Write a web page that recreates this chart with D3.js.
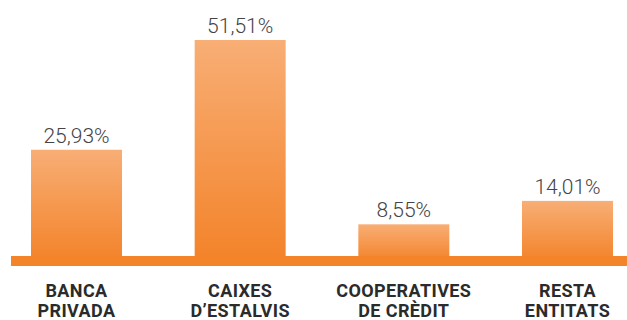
<!DOCTYPE html>
<html>
<head>
<meta charset="utf-8">
<script src="https://cdn.jsdelivr.net/npm/d3@7"></script>
<style>
  body { margin: 0; background: #fff; }
  svg { display: block; }
</style>
</head>
<body>
<div id="chartContainer"></div>
<script>
const categories = [["BANCA", "PRIVADA"], ["CAIXES", "D\u2019ESTALVIS"], ["COOPERATIVES", "DE CR\u00c8DIT"], ["RESTA", "ENTITATS"]];
const values = [25.93, 51.51, 8.55, 14.01];
const valueLabels = ["25,93%", "51,51%", "8,55%", "14,01%"];

const chartWidth = 627;
const chartHeight = 320;

const svg = d3.select("#chartContainer").append("svg")
  .attr("width", chartWidth)
  .attr("height", chartHeight);

// vertical gradient for the bars
const grad = svg.append("defs").append("linearGradient")
  .attr("id", "barGrad")
  .attr("x1", 0).attr("y1", 0).attr("x2", 0).attr("y2", 1);
grad.append("stop").attr("offset", "0%").attr("stop-color", "#f8ae75");
grad.append("stop").attr("offset", "100%").attr("stop-color", "#f3832a");

const keys = categories.map(d => d.join(" "));

const xScale = d3.scaleBand()
  .domain(keys)
  .range([31, 613])
  .paddingInner(0.444)
  .paddingOuter(0);

const yScale = d3.scaleLinear()
  .domain([0, 51.51])
  .range([261, 40]);

// bars
svg.selectAll(".bar")
  .data(values)
  .enter().append("rect")
  .attr("class", "bar")
  .attr("x", (d, i) => xScale(keys[i]))
  .attr("width", xScale.bandwidth())
  .attr("y", d => yScale(d))
  .attr("height", d => yScale(0) - yScale(d))
  .style("fill", "url(#barGrad)");

// baseline band
svg.append("rect")
  .attr("x", 11)
  .attr("y", yScale(0) - 5)
  .attr("width", chartWidth - 11)
  .attr("height", 10)
  .style("fill", "#f3842a");

// value labels
svg.selectAll(".value")
  .data(values)
  .enter().append("text")
  .attr("class", "value")
  .attr("x", (d, i) => xScale(keys[i]) + xScale.bandwidth() / 2)
  .attr("y", d => yScale(d) - 7)
  .attr("text-anchor", "middle")
  .style("font-family", "Roboto, sans-serif")
  .style("font-weight", 300)
  .style("font-size", "21px")
  .style("fill", "#444")
  .text((d, i) => valueLabels[i]);

// category labels
const cat = svg.selectAll(".cat")
  .data(categories)
  .enter().append("text")
  .attr("class", "cat")
  .attr("x", (d, i) => xScale(keys[i]) + xScale.bandwidth() / 2)
  .attr("y", 297)
  .attr("text-anchor", "middle")
  .style("font-family", "Roboto, sans-serif")
  .style("font-weight", "bold")
  .style("font-size", "18px")
  .style("letter-spacing", "0.4px")
  .style("fill", "#2b2b2b");

cat.selectAll("tspan")
  .data(d => d)
  .enter().append("tspan")
  .attr("x", function() { return d3.select(this.parentNode).attr("x"); })
  .attr("dy", (d, i) => i === 0 ? 0 : 20)
  .text(d => d);
</script>
</body>
</html>
